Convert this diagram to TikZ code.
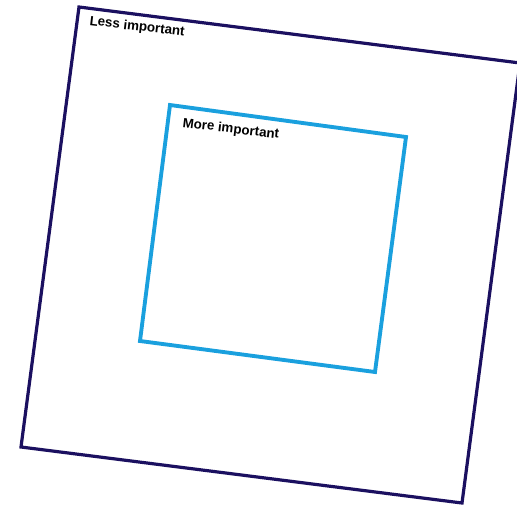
\documentclass[tikz,border=0pt]{standalone}
\usepackage{fontspec}
\setmainfont{Liberation Sans}
\definecolor{outerc}{HTML}{1B1060}
\definecolor{innerc}{HTML}{1AA0DE}
\begin{document}
\begin{tikzpicture}[x=0.75pt,y=-0.75pt,
  outerbox/.style={draw=outerc,line width=2.4pt,line join=miter},
  innerbox/.style={draw=innerc,line width=2.9pt,line join=miter},
  lbl/.style={font=\bfseries\fontsize{10}{12}\selectfont,inner sep=0pt,anchor=base west,rotate=-6.8}]
\useasboundingbox (0,0) rectangle (517,507);
\clip (0,0) rectangle (517,507);
\coordinate (o1) at (79,7);
\coordinate (o2) at (520,63);
\coordinate (o3) at (462,503);
\coordinate (o4) at (21,447);
\coordinate (i1) at (170,105);
\coordinate (i2) at (406,137);
\coordinate (i3) at (375,372);
\coordinate (i4) at (140,341);
\draw[outerbox] (o1) -- (o2) -- (o3) -- (o4) -- cycle;
\draw[innerbox] (i1) -- (i2) -- (i3) -- (i4) -- cycle;
\node[lbl] (less) at (89,25) {Less important};
\node[lbl] (more) at (182,127) {More important};
\end{tikzpicture}
\end{document}
